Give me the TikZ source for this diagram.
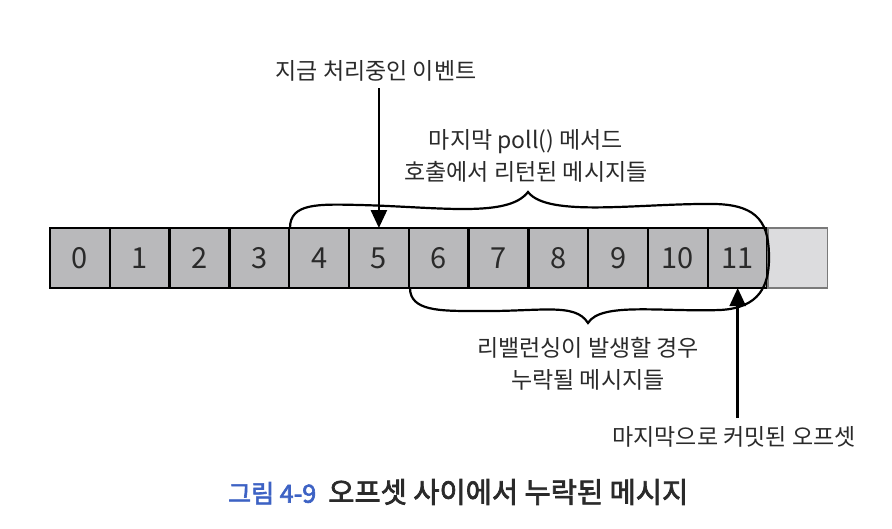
\documentclass[tikz,border=0pt]{standalone}
\usepackage{fontspec}
\setmainfont{Noto Sans CJK KR}
\newfontfamily\capfont[FakeBold=2.5]{Noto Sans CJK KR}
\usetikzlibrary{arrows.meta}
\definecolor{cellfill}{HTML}{B9B9BB}
\definecolor{emptyfill}{HTML}{DCDCDE}
\definecolor{emptyline}{HTML}{7A7A7A}
\definecolor{txt}{HTML}{2A2A2A}
\definecolor{capblue}{HTML}{3D62C4}
\tikzset{
  cell/.style={draw=black, line width=2.4pt, fill=cellfill, minimum width=59.8pt, minimum height=60pt, inner sep=0pt, outer sep=0pt, font=\fontsize{29}{29}\selectfont, text=txt, anchor=north west},
  emptycell/.style={cell, draw=emptyline, fill=emptyfill, line width=1.8pt},
  lbl/.style={font=\fontsize{23}{32}\selectfont, text=txt, align=center, inner sep=0pt},
  brace/.style={draw=black, line width=2.2pt},
  arr/.style={draw=black, line width=2.6pt, -{Triangle[length=18pt,width=16pt]}}
}
\begin{document}
\begin{tikzpicture}[x=1pt,y=-1pt]
\useasboundingbox (0,0) rectangle (892,528);
% cells
\foreach \i in {0,...,11}{
  \node[cell] (c\i) at ({50+59.8*\i},228) {\i};
}
\node[emptycell] (c12) at ({50+59.8*12},228) {};
% braces
\draw[brace] (290,228) .. controls (290,203) and (318,204) .. (360,205)
  .. controls (440,207) and (508,218) .. (528,192)
  .. controls (548,218) and (640,203) .. (715,204)
  .. controls (760,205) and (769,225) .. (769,258);
\draw[brace] (410,288) .. controls (410,311) and (440,311) .. (475,311)
  .. controls (540,312) and (575,302) .. (588,323)
  .. controls (601,302) and (660,312) .. (720,310)
  .. controls (760,308) and (769,285) .. (769,258);
% labels
\node[lbl] (t1) at (376,71) {지금 처리중인 이벤트};
\node[lbl] (t2) at (526,156) {마지막 poll() 메서드\\호출에서 리턴된 메시지들};
\node[lbl] (t3) at (588,364) {리밸런싱이 발생할 경우\\누락될 메시지들};
\node[lbl] (t4) at (734,437) {마지막으로 커밋된 오프셋};
% arrows
\draw[arr] (c5.north |- 0,88) -- (c5.north);
\draw[arr] (c11.south |- 0,418) -- (c11.south);
% caption
\node[font=\capfont, inner sep=0pt, anchor=west] (cap) at (228,492) {\fontsize{25}{25}\selectfont\textcolor{capblue}{그림 4-9}\hspace{12pt}\fontsize{28.5}{28.5}\selectfont\textcolor{txt}{오프셋 사이에서 누락된 메시지}};
\end{tikzpicture}
\end{document}
